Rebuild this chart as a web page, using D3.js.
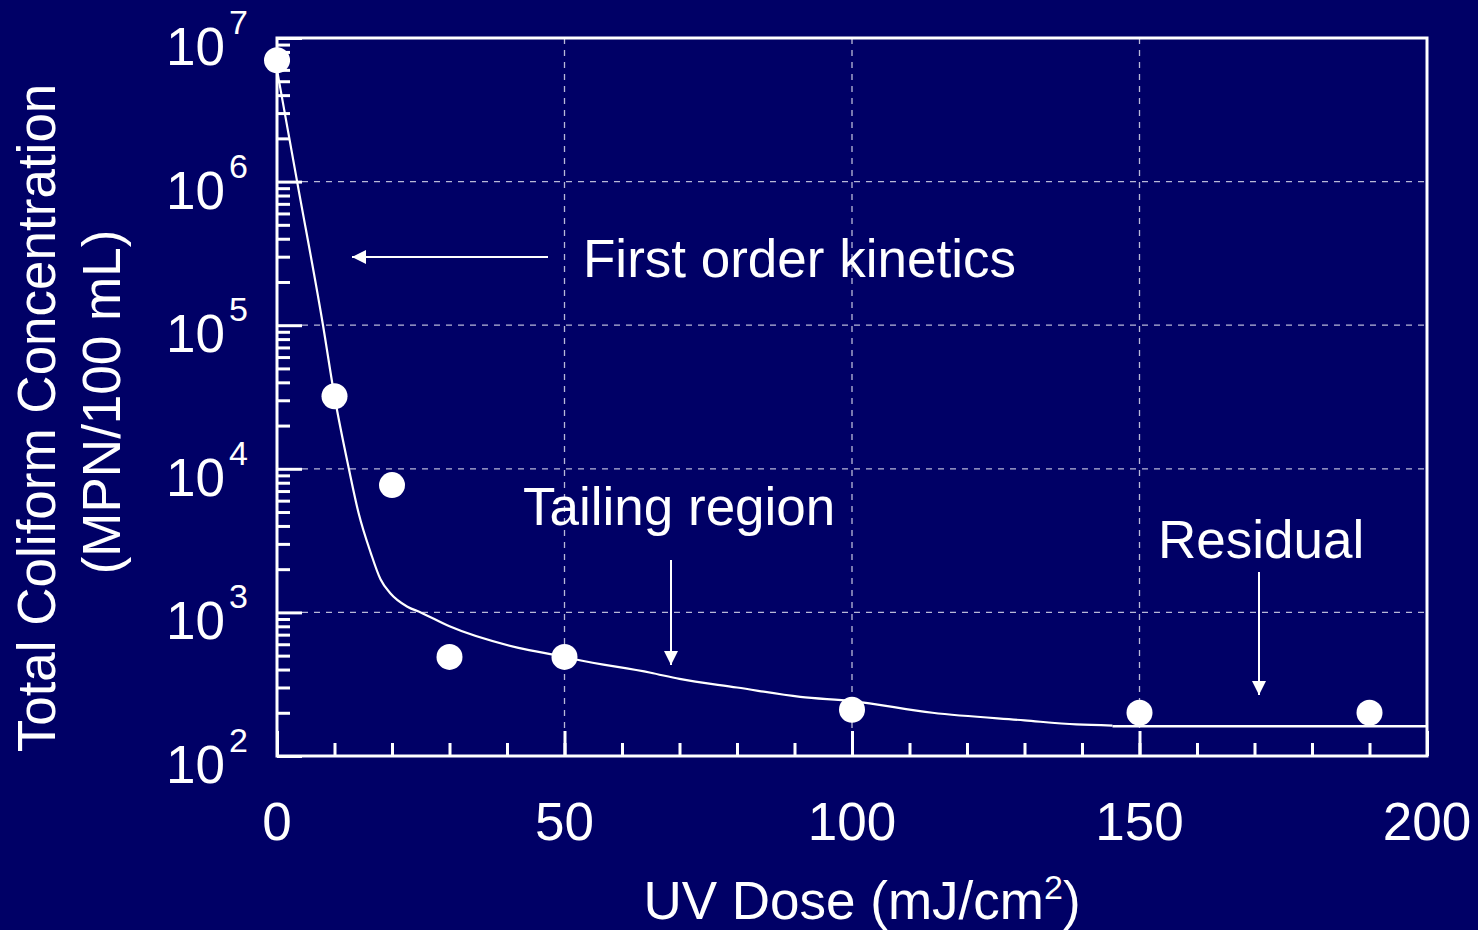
<!DOCTYPE html>
<html>
<head>
<meta charset="utf-8">
<script src="https://cdn.jsdelivr.net/npm/d3@7"></script>
<style>
  body { margin: 0; background: #000066; }
  svg  { display: block; }
  text { font-family: "Liberation Sans", Arial, sans-serif; fill: #fff; }
</style>
</head>
<body>
<div id="chart"></div>
<script>
///////////////////////////////////////////////////////////////////////////
//   UV DOSE RESPONSE
///////////////////////////////////////////////////////////////////////////

// Measured points
var pointDose = [0, 10, 20, 30, 50, 100, 150, 190]
var pointConc = [7.0e6, 3.2e4, 7.7e3, 490, 490, 210, 200, 200]

// Fitted curve (first order + tailing)
var curveDose = [0, 3.5, 8, 10, 12.5, 14.2, 16.3, 18, 19.7, 22.6, 25, 30, 42, 50, 52, 65, 70, 80, 91, 100, 114, 130, 139, 145.3]
var curveConc = [6.0e6, 1.0e6, 1.0e5, 3.2e4, 1.0e4, 4.9e3, 2.6e3, 1.7e3, 1.36e3, 1.1e3, 1.0e3, 800, 566, 490, 470, 380, 344, 300, 258, 241, 200, 177, 166, 163]

// Residual plateau
var residualDose = [145.3, 200]
var residualConc = [161, 161]

// Ticks
var xMajor = [0, 50, 100, 150, 200]
var xMinor = d3.range(0, 201, 10)
var yMajorExp = [2, 3, 4, 5, 6, 7]

// Sizes  (note: "top" is taken by window.top, so prefixed names)
var W = 1478, H = 930
var plotL = 277, plotR = 1427, plotT = 38, plotB = 756

var svg = d3.select('#chart').append('svg')
    .attr('width',  W)
    .attr('height', H)
svg.append('rect').attr('width', W).attr('height', H).attr('fill', '#000066')

var x = d3.scaleLinear().domain([0, 200]).range([plotL, plotR])
var y = d3.scaleLog().domain([1e2, 1e7]).range([plotB, plotT])

var yMinor = []
yMajorExp.slice(0, -1).forEach(e => { for (var k = 2; k <= 9; k++) yMinor.push(k * Math.pow(10, e)) })

// Grid
var grid = svg.append('g')
    .attr('stroke', '#b8b8d8')
    .attr('stroke-width', 1.3)
    .attr('stroke-dasharray', '6,6')
grid.selectAll('.hg').data([1e3, 1e4, 1e5, 1e6]).enter().append('line')
    .attr('x1', plotL + 25).attr('x2', plotR)
    .attr('y1', d => y(d)).attr('y2', d => y(d))
grid.selectAll('.vg').data([50, 100, 150]).enter().append('line')
    .attr('x1', d => x(d)).attr('x2', d => x(d))
    .attr('y1', plotT).attr('y2', plotB - 25)

// Axes (ticks inward)
function styleAxis(g) {
    g.select('.domain').remove()
    g.selectAll('line').attr('stroke', '#fff').attr('stroke-width', 3)
    g.selectAll('text').remove()
}
svg.append('g').attr('transform', `translate(0,${plotB})`)
    .call(d3.axisBottom(x).tickValues(xMinor).tickSize(-13)).call(styleAxis)
svg.append('g').attr('transform', `translate(0,${plotB})`)
    .call(d3.axisBottom(x).tickValues(xMajor).tickSize(-25)).call(styleAxis)
svg.append('g').attr('transform', `translate(${plotL},0)`)
    .call(d3.axisLeft(y).tickValues(yMinor).tickSize(-13)).call(styleAxis)
svg.append('g').attr('transform', `translate(${plotL},0)`)
    .call(d3.axisLeft(y).tickValues(yMajorExp.map(e => Math.pow(10, e))).tickSize(-25)).call(styleAxis)

// Frame
svg.append('rect')
    .attr('x', plotL).attr('y', plotT)
    .attr('width', plotR - plotL).attr('height', plotB - plotT)
    .attr('fill', 'none').attr('stroke', '#fff').attr('stroke-width', 3)

// Tick labels
svg.selectAll('.xl').data(xMajor).enter().append('text')
    .attr('x', d => x(d)).attr('y', 840)
    .attr('text-anchor', 'middle')
    .attr('font-size', 53)
    .text(d => d)

var yl = svg.selectAll('.yl').data(yMajorExp).enter().append('text')
    .attr('x', 166).attr('y', d => y(Math.pow(10, d)) + 27)
    .attr('font-size', 53)
yl.append('tspan').text('10')
yl.append('tspan').attr('font-size', 34).attr('dx', 4).attr('dy', -31).text(d => d)

// Axis titles
var xt = svg.append('text')
    .attr('x', 862).attr('y', 919)
    .attr('text-anchor', 'middle')
    .attr('font-size', 53)
xt.append('tspan').text('UV Dose (mJ/cm')
xt.append('tspan').attr('font-size', 34).attr('dy', -20).text('2')
xt.append('tspan').attr('dy', 20).text(')')

svg.append('text')
    .attr('transform', 'translate(55,418) rotate(-90)')
    .attr('text-anchor', 'middle')
    .attr('font-size', 53)
    .text('Total Coliform Concentration')
svg.append('text')
    .attr('transform', 'translate(120,402) rotate(-90)')
    .attr('text-anchor', 'middle')
    .attr('font-size', 53)
    .text('(MPN/100 mL)')

// Curve + residual line
var line = d3.line().x(d => x(d[0])).y(d => y(d[1])).curve(d3.curveMonotoneX)
svg.append('path')
    .datum(d3.zip(curveDose, curveConc))
    .attr('d', line)
    .attr('fill', 'none').attr('stroke', '#fff').attr('stroke-width', 2.2)
svg.append('path')
    .datum(d3.zip(residualDose, residualConc))
    .attr('d', line)
    .attr('fill', 'none').attr('stroke', '#fff').attr('stroke-width', 2.5)

// Points
svg.selectAll('.pt').data(d3.zip(pointDose, pointConc)).enter().append('circle')
    .attr('cx', d => x(d[0])).attr('cy', d => y(d[1]))
    .attr('r', 13)
    .attr('fill', '#fff')

// Annotations
svg.append('defs').append('marker')
    .attr('id', 'head')
    .attr('viewBox', '0 0 10 10')
    .attr('refX', 10).attr('refY', 5)
    .attr('markerUnits', 'userSpaceOnUse')
    .attr('markerWidth', 14).attr('markerHeight', 14)
    .attr('orient', 'auto')
  .append('path').attr('d', 'M0,0 L10,5 L0,10 Z').attr('fill', '#fff')

function arrow(x1, y1, x2, y2) {
    svg.append('line')
        .attr('x1', x1).attr('y1', y1).attr('x2', x2).attr('y2', y2)
        .attr('stroke', '#fff').attr('stroke-width', 2)
        .attr('marker-end', 'url(#head)')
}
arrow(548, 257, 352, 257)
arrow(671, 560, 671, 665)
arrow(1259, 572, 1259, 695)

svg.append('text').attr('x', 583).attr('y', 277).attr('font-size', 53).text('First order kinetics')
svg.append('text').attr('x', 523).attr('y', 525).attr('font-size', 53).text('Tailing region')
svg.append('text').attr('x', 1158).attr('y', 558).attr('font-size', 53).text('Residual')
</script>
</body>
</html>
